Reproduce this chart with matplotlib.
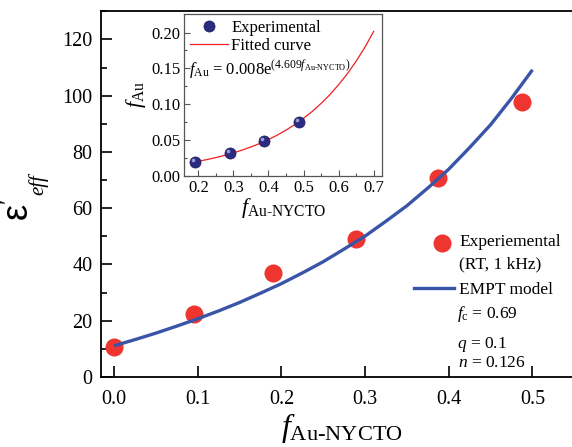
import matplotlib
matplotlib.use("Agg")
import matplotlib.pyplot as plt
import matplotlib.transforms as mtransforms
from matplotlib.lines import Line2D
from matplotlib.legend_handler import HandlerLine2D

plt.rcParams['font.family'] = ['Liberation Serif', 'DejaVu Serif']
plt.rcParams['mathtext.fontset'] = 'custom'
plt.rcParams['mathtext.rm'] = 'Liberation Serif'
plt.rcParams['mathtext.it'] = 'Liberation Serif:italic'
plt.rcParams['mathtext.sf'] = 'Liberation Sans'
plt.rcParams['mathtext.bf'] = 'Liberation Serif:bold'

# ---- main data ----
exp_x = [0.0, 0.0956, 0.190, 0.289, 0.387, 0.487]
exp_y = [10.8, 22.4, 37.1, 48.9, 70.8, 97.8]

empt_x = [0.0, 0.025, 0.05, 0.075, 0.10, 0.125, 0.15, 0.175, 0.20, 0.225, 0.25,
          0.275, 0.30, 0.325, 0.35, 0.375, 0.40, 0.425, 0.45, 0.475, 0.50]
empt_y = [11.1, 13.3, 15.6, 18.1, 20.7, 23.5, 26.5, 29.8, 33.2, 37.0, 41.0,
          45.5, 50.1, 55.4, 60.9, 67.2, 73.9, 81.6, 89.7, 99.1, 109.2]

main_xticks = [0.0, 0.1, 0.2, 0.3, 0.4, 0.5]
main_yticks = [0, 20, 40, 60, 80, 100, 120]

# ---- inset data ----
in_exp_x = [0.19, 0.29, 0.386, 0.487]
in_exp_y = [0.019, 0.032, 0.049, 0.075]

fit_x = [0.19, 0.20, 0.225, 0.25, 0.275, 0.30, 0.325, 0.35, 0.375, 0.40, 0.425, 0.45,
         0.475, 0.50, 0.525, 0.55, 0.575, 0.60, 0.625, 0.65, 0.675, 0.70]
fit_y = [0.0192, 0.0201, 0.0226, 0.0253, 0.0284, 0.0319, 0.0358, 0.0402, 0.0450,
         0.0506, 0.0567, 0.0637, 0.0714, 0.0802, 0.0899, 0.1010, 0.1132, 0.1272,
         0.1426, 0.1601, 0.1795, 0.2018]

in_xticks = [0.2, 0.3, 0.4, 0.5, 0.6, 0.7]
in_yticks = [0.00, 0.05, 0.10, 0.15, 0.20]

RED = '#ee3530'
BLUE = '#3a55a8'
NAVY = '#2c2b80'


class ShiftedHandler(HandlerLine2D):
    """Line2D legend handler with the handle shifted (in points)."""
    def __init__(self, dx=0.0, dy=0.0, **kw):
        super().__init__(**kw)
        self.dx = dx
        self.dy = dy

    def create_artists(self, legend, orig_handle, xdescent, ydescent, width,
                       height, fontsize, trans):
        return super().create_artists(legend, orig_handle, xdescent - self.dx,
                                      ydescent - 2 * self.dy, width, height,
                                      fontsize, trans)


W, H = 572, 447
fig = plt.figure(figsize=(W / 100, H / 100), dpi=100)

# main axes (right edge beyond figure, as in reference)
ax = fig.add_axes([100.7 / W, 1 - 377 / H, 482 / W, (377 - 11.3) / H])
ax.set_xlim(-0.016, 0.56)
ax.set_ylim(0, 130)
ax.set_xticks(main_xticks)
ax.set_xticklabels([f"{v:.1f}" for v in main_xticks])
ax.set_yticks(main_yticks)
ax.set_yticks([10, 30, 50, 70, 90, 110, 130], minor=True)
ax.tick_params(which='major', direction='in', length=8, width=1.2, labelsize=14.5, pad=6)
ax.tick_params(which='minor', direction='in', length=4.5, width=1.2)
ax.tick_params(axis='x', which='major', pad=9)
for s in ax.spines.values():
    s.set_linewidth(1.3)
ax.spines['right'].set_visible(False)

ax.plot(empt_x, empt_y, color=BLUE, lw=2.4, zorder=3, solid_capstyle='butt')
ax.plot(exp_x, exp_y, 'o', color=RED, ms=13, mec='none', zorder=2)

ax.set_xlabel(r"$f_{\text{Au-NYCTO}}$", fontsize=23, labelpad=2)

# y label: big epsilon with prime, small italic subscript
fig.text(21 / W, 1 - 210 / H, r"$\mathsf{\varepsilon}'$", fontsize=26, rotation=90,
         ha='center', va='center')
fig.text(38 / W, 1 - 185 / H, "eff", fontsize=15, style='italic', rotation=90,
         ha='center', va='center')

# main legend
h_exp = Line2D([], [], ls='none', marker='o', color=RED, ms=13, mec='none')
h_empt = Line2D([], [], color=BLUE, lw=2.4)
leg = ax.legend([h_exp, h_empt], ["Experiemental\n(RT, 1 kHz)", "EMPT model"],
                loc='upper left', bbox_to_anchor=(414 / W, 1 - 234 / H),
                bbox_transform=fig.transFigure,
                frameon=False, fontsize=12.5, handlelength=2.3, handletextpad=0.3,
                labelspacing=0.55, borderaxespad=0, borderpad=0,
                handler_map={h_exp: ShiftedHandler(dx=5.5, dy=7.5)})
leg.get_texts()[0].set_linespacing(1.55)

fs = 12.5
ax.text(457 / W, 1 - 314 / H, r"$f_{\mathrm{c}}$ = 0.69", transform=fig.transFigure,
        fontsize=fs, va='center', ha='left')
ax.text(457 / W, 1 - 348 / H, r"$q$ = 0.1", transform=fig.transFigure,
        fontsize=fs, va='baseline', ha='left')
ax.text(458 / W, 1 - 367 / H, r"$n$ = 0.126", transform=fig.transFigure,
        fontsize=fs, va='baseline', ha='left')

# ---- inset ----
ia = fig.add_axes([184.3 / W, 1 - 175.7 / H, (382.3 - 184.3) / W, (175.7 - 14) / H])
ia.set_xlim(0.16, 0.7245)
ia.set_ylim(0, 0.226)
ia.set_xticks(in_xticks)
ia.set_xticklabels([f"{v:.1f}" for v in in_xticks])
ia.set_xticks([0.25, 0.35, 0.45, 0.55, 0.65], minor=True)
ia.set_yticks(in_yticks)
ia.set_yticklabels([f"{v:.2f}" for v in in_yticks])
ia.set_yticks([0.025, 0.075, 0.125, 0.175], minor=True)
ia.tick_params(which='major', direction='in', length=4, width=0.8, labelsize=12,
               color='#555555', pad=3)
ia.tick_params(which='minor', direction='in', length=2.2, width=0.8, color='#555555')
for s in ia.spines.values():
    s.set_linewidth(0.9)
    s.set_color('#555555')

ia.plot(fit_x, fit_y, color='#ee2020', lw=0.9, zorder=2)
ia.plot(in_exp_x, in_exp_y, 'o', color=NAVY, ms=8, mec='#1c1b5a', mew=0.5, zorder=3)
hl = mtransforms.offset_copy(ia.transData, fig=fig, x=-1.3, y=1.3, units='points')
ia.plot(in_exp_x, in_exp_y, 'o', color='#9a9ad8', ms=2.6, mec='none', transform=hl, zorder=4)

ia.set_xlabel(r"$f_{\text{Au-NYCTO}}$", fontsize=16, labelpad=0)
ia.set_ylabel(r"$f_{\text{Au}}$", fontsize=16, labelpad=2)

ih_exp = Line2D([], [], ls='none', marker='o', color=NAVY, ms=8, mec='#1c1b5a', mew=0.5)
ih_fit = Line2D([], [], color='#ee2020', lw=0.9)
ia.legend([ih_exp, ih_fit], ["Experimental", "Fitted curve"], loc='upper left',
          bbox_to_anchor=(0.01, 0.985), frameon=False, fontsize=12,
          handlelength=2.3, handletextpad=0.2, labelspacing=0.12, borderaxespad=0.1,
          borderpad=0.1)

ia.text(0.025, 0.655, r"$f_{\text{Au}}$ = 0.008e$^{(4.609 f_{\text{Au-NYCTO}})}$",
        transform=ia.transAxes, fontsize=12, va='center', ha='left')

fig.savefig("out.png", dpi=100)
